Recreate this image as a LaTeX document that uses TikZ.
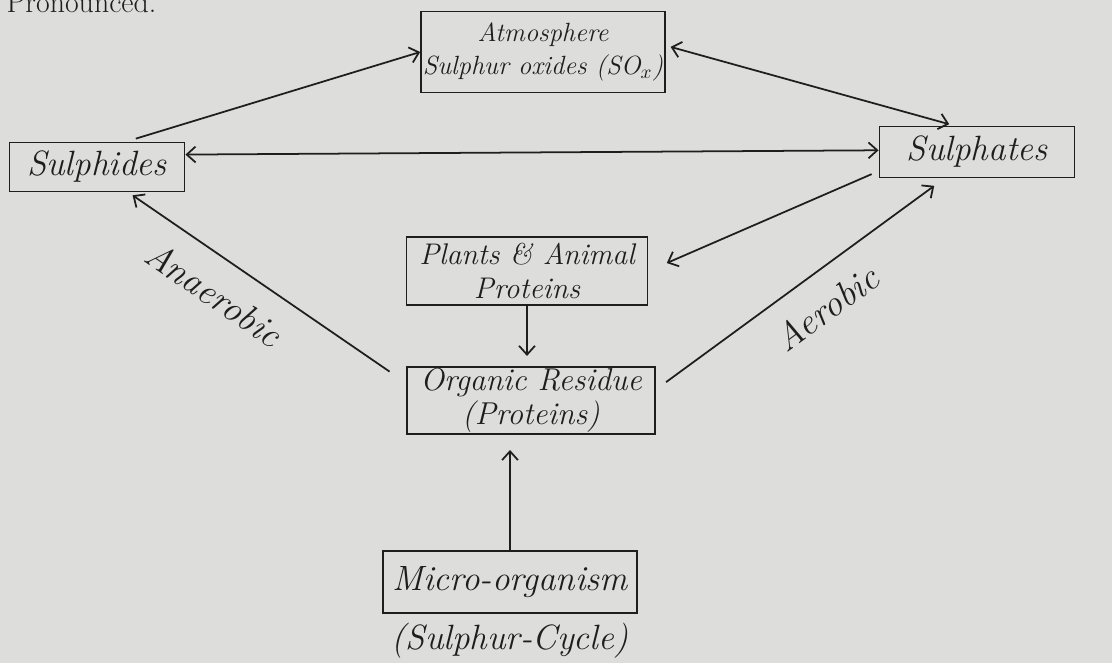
\documentclass[tikz,border=0pt]{standalone}
\usetikzlibrary{positioning,arrows.meta}
\definecolor{paper}{RGB}{221,222,219}
\definecolor{ink}{RGB}{30,30,30}
\tikzset{
  cyclebox/.style={draw=ink, line width=1.1pt, align=center, inner sep=1pt,
    font=\fontsize{17}{19}\selectfont\itshape},
  bigtext/.style={font=\fontsize{20}{22}\selectfont\itshape},
  lbl/.style={sloped, font=\fontsize{21}{23}\selectfont\itshape}
}
\begin{document}
\begin{tikzpicture}[x=0.02cm, y=-0.02cm, line width=1pt, ink,
    >={Straight Barb[length=5pt,width=9pt]}]
  \fill[paper] (0,0) rectangle (1112,663);
  \useasboundingbox (0,0) rectangle (1112,663);
  \node [anchor=base west, font=\fontsize{17}{19}\selectfont] (prev) at (0,12) {Pronounced.};
  \node [cyclebox, font=\fontsize{15}{19}\selectfont\itshape, minimum width=4.86cm, minimum height=1.62cm] (atmos) at (543,52) {Atmosphere\\Sulphur oxides (SO$_x$)};
  \node [cyclebox, bigtext, minimum width=3.5cm, minimum height=0.98cm] (sulphides) at (97,167) {Sulphides};
  \node [cyclebox, bigtext, minimum width=3.9cm, minimum height=1.02cm] (sulphates) at (977,152) {Sulphates};
  \node [cyclebox, minimum width=4.82cm, minimum height=1.36cm] (plants) at (527,271) {Plants \& Animal\\Proteins};
  \node [cyclebox, font=\fontsize{18}{19}\selectfont\itshape, minimum width=4.96cm, minimum height=1.3cm] (residue) [below=1.2cm of plants, xshift=0.08cm] {Organic Residue\\(Proteins)};
  \node [cyclebox, bigtext, minimum width=5.08cm, minimum height=1.24cm] (microbes) [below=2.3cm of residue, xshift=-0.42cm] {Micro-organism};
  \node [bigtext] (caption) [below=0.05cm of microbes] {(Sulphur-Cycle)};
    \path[->]
    (sulphides.41) edge [shorten <=0.2cm] (atmos.west)
    (atmos.3) edge [<->, shorten <=0.1cm, shorten >=0.1cm] (sulphates.131)
    (sulphides.8) edge [<->] (sulphates.179)
    (sulphates.191) edge [shorten <=0.15cm, shorten >=0.4cm] (plants.east)
    (plants.south) edge [shorten >=0.2cm] (plants.south |- residue.north)
    (residue.172) edge [shorten <=0.4cm, shorten >=0.1cm] node [lbl, below=0.3cm, pos=0.62] {Anaerobic} (sulphides.321)
    (residue.5) edge [shorten <=0.25cm, shorten >=0.25cm] node [lbl, below=0.3cm, pos=0.52] {Aerobic} (sulphates.219)
    (microbes.north) edge [shorten >=0.3cm] (microbes.north |- residue.south);
\end{tikzpicture}
\end{document}
